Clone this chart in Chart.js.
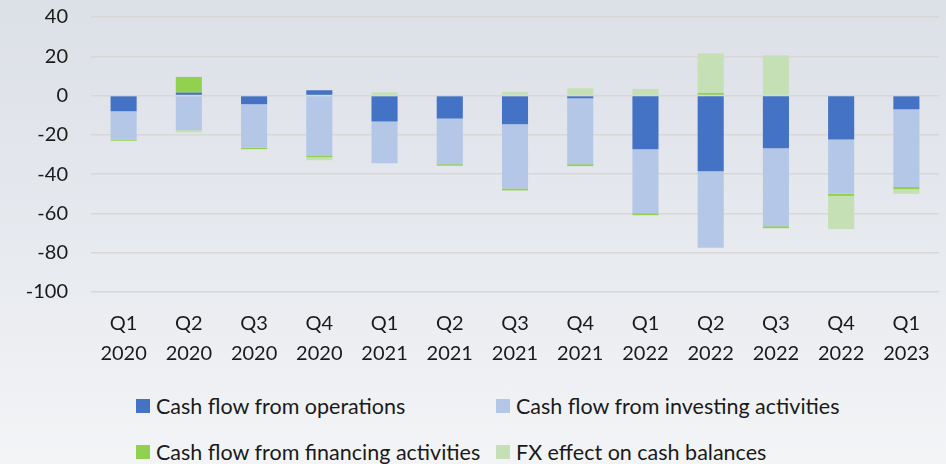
<!DOCTYPE html>
<html>
<head>
<meta charset="utf-8">
<script src="https://cdn.jsdelivr.net/npm/chart.js@4"></script>
<style>
  html, body { margin: 0; padding: 0; }
  body {
    width: 946px; height: 464px; overflow: hidden; position: relative;
    background: linear-gradient(to bottom, #dce0e7 0%, #e6e9ee 50%, #f3f4f6 100%);
    font-family: Lato, sans-serif;
  }
  #wrap { position: absolute; left: 0; top: -18px; width: 946px; height: 398px; }
  #legend {
    position: absolute; left: 136px; top: 394px;
    display: grid; grid-template-columns: 360px auto; row-gap: 22px;
    font-size: 21.5px; color: #1a1a1a;
  }
  .item { display: flex; align-items: center; white-space: nowrap; height: 24px; line-height: 24px; }
  .box { width: 14px; height: 14px; margin-right: 6px; flex: none; }
</style>
</head>
<body>
<div id="wrap"><canvas id="chart"></canvas></div>
<div id="legend"></div>
<script>
const quarters = [['Q1', '2020'], ['Q2', '2020'], ['Q3', '2020'], ['Q4', '2020'], ['Q1', '2021'], ['Q2', '2021'], ['Q3', '2021'], ['Q4', '2021'], ['Q1', '2022'], ['Q2', '2022'], ['Q3', '2022'], ['Q4', '2022'], ['Q1', '2023']];
const operations = [-8, 1.5, -4.4, 2.7, -13.2, -11.7, -14.6, -1.4, -27.3, -38.5, -26.8, -22.4, -7];
const investing = [-14.4, -17.6, -22.2, -30.7, -21.2, -23.2, -32.7, -33.5, -32.6, -39, -39.7, -27.6, -39.5];
const financing = [-0.6, 8, -0.7, -0.7, 0, -0.8, -1, -1, -1, 1.3, -1, -1.1, -1.2];
const fxEffect = [0, -1.1, 0, -1.5, 1.7, 0, 1.8, 3.7, 3.4, 20.1, 20.5, -16.9, -2.3];
const yTicks = [40, 20, 0, -20, -40, -60, -80, -100];

const seriesNames = ['Cash flow from operations', 'Cash flow from investing activities', 'Cash flow from financing activities', 'FX effect on cash balances'];
const seriesColors = ['#4472c4', '#b4c7e7', '#92d050', '#c5e0b4'];
const seriesData = [operations, investing, financing, fxEffect];

const tickFont = { family: 'Lato, sans-serif', size: 20 };
const xFont = { family: 'Lato, sans-serif', size: 20, lineHeight: 1.5 };

const chart = new Chart(document.getElementById('chart'), {
	type: 'bar',
	data: {
		labels: quarters,
		datasets: seriesNames.map((name, i) => ({
			label: name,
			data: seriesData[i],
			backgroundColor: seriesColors[i],
			borderWidth: 0,
			categoryPercentage: 0.8,
			barPercentage: 0.5
		}))
	},
	options: {
		responsive: true,
		maintainAspectRatio: false,
		animation: false,
		layout: { padding: { top: 16, right: 7, left: 0, bottom: 0 } },
		plugins: {
			legend: { display: false },
			tooltip: { enabled: false }
		},
		scales: {
			x: {
				stacked: true,
				grid: { display: false },
				border: { display: false },
				ticks: { color: '#1a1a1a', font: xFont, padding: 9, maxRotation: 0, autoSkip: false },
				afterFit: scale => { scale.height = 88; }
			},
			y: {
				stacked: true,
				min: -100,
				max: 40,
				afterBuildTicks: scale => { scale.ticks = yTicks.map(v => ({ value: v })); },
				grid: { color: '#d8d7d6', lineWidth: 1.5, drawTicks: false },
				border: { display: false },
				ticks: { color: '#1a1a1a', font: tickFont, padding: 23 },
				afterFit: scale => { scale.width = 91; }
			}
		}
	}
});

// legend laid out as a two-column grid, like the original
const legend = document.getElementById('legend');
chart.data.datasets.forEach(ds => {
	const item = document.createElement('div');
	item.className = 'item';
	const box = document.createElement('span');
	box.className = 'box';
	box.style.background = ds.backgroundColor;
	item.appendChild(box);
	item.appendChild(document.createTextNode(ds.label));
	legend.appendChild(item);
});
</script>
</body>
</html>
